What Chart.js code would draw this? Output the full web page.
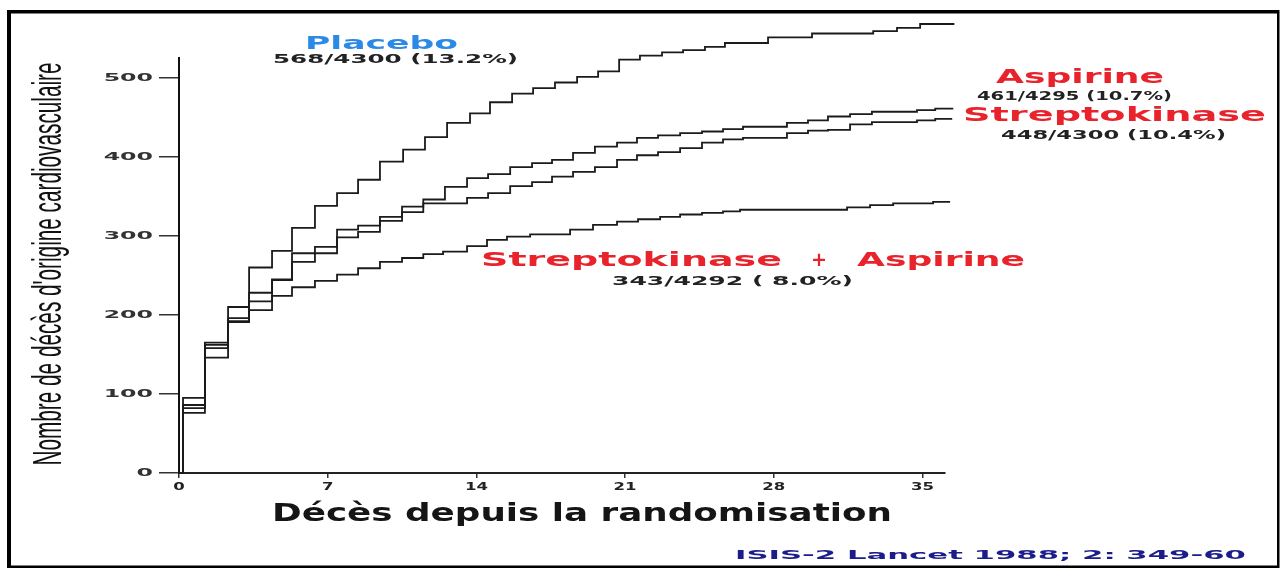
<!DOCTYPE html>
<html>
<head>
<meta charset="utf-8">
<script src="https://cdn.jsdelivr.net/npm/chart.js@4.4.0/dist/chart.umd.min.js"></script>
<style>
  html, body { margin: 0; padding: 0; background: #fff; overflow: hidden; }
  #wrap { position: relative; width: 1283px; height: 570px; }
</style>
</head>
<body>
<div id="wrap"><canvas id="c" width="1283" height="570"></canvas></div>
<script>
// Cumulative cardiovascular deaths by day since randomisation (ISIS-2)
const xTickValues = [0, 7, 14, 21, 28, 35];
const yTickValues = [0, 100, 200, 300, 400, 500];

const placeboDays   = [0, 0.19, 1.22, 2.31, 3.30, 4.38, 5.32, 6.40, 7.44, 8.43, 9.46, 10.55, 11.58, 12.62, 13.70, 14.64, 15.68, 16.67, 17.70, 18.74, 19.73, 20.72, 21.70, 22.74, 23.73, 24.76, 25.70, 27.73, 29.80, 32.68, 33.80, 34.89, 36.50];
const placeboDeaths = [0, 95, 165, 210, 260, 281, 310, 338, 354, 371, 394, 409, 425, 443, 455, 469, 480, 487, 494, 501, 508, 523, 528, 532, 535, 539, 544, 551, 556, 559, 563, 568, 568];

const aspirinDays   = [0, 0.19, 1.22, 2.31, 3.30, 4.38, 5.32, 6.40, 7.44, 8.43, 9.46, 10.50, 11.50, 12.52, 13.56, 14.55, 15.59, 16.62, 17.56, 18.55, 19.58, 20.62, 21.56, 22.55, 23.59, 24.62, 25.61, 26.55, 28.62, 29.61, 30.55, 31.59, 32.62, 34.74, 35.60, 36.45];
const aspirinDeaths = [0, 86, 162, 196, 228, 245, 278, 286, 308, 313, 324, 337, 346, 362, 373, 378, 387, 392, 396, 405, 413, 418, 424, 427, 430, 432, 435, 438, 443, 446, 451, 454, 457, 459, 461, 461];

const streptoDays   = [0, 0.19, 1.22, 2.31, 3.30, 4.38, 5.32, 6.40, 7.44, 8.43, 9.46, 10.50, 11.50, 13.56, 14.55, 15.59, 16.62, 17.56, 18.55, 19.58, 20.62, 21.56, 22.55, 23.59, 24.62, 25.61, 26.55, 28.62, 29.61, 30.55, 31.59, 32.62, 34.74, 35.60, 36.40];
const streptoDeaths = [0, 82, 158, 192, 217, 244, 267, 278, 298, 305, 319, 330, 341, 348, 354, 363, 368, 375, 381, 387, 396, 402, 406, 411, 418, 422, 424, 430, 433, 434, 441, 444, 446, 448, 448];

const comboDays     = [0, 0.19, 1.22, 2.31, 3.30, 4.38, 5.32, 6.40, 7.44, 8.43, 9.46, 10.50, 11.50, 12.43, 13.56, 14.50, 15.44, 16.53, 18.41, 19.49, 20.62, 21.61, 22.65, 23.59, 24.62, 25.61, 26.41, 31.45, 32.53, 33.62, 35.50, 36.30];
const comboDeaths   = [0, 76, 146, 191, 206, 224, 235, 243, 251, 259, 267, 272, 277, 280, 287, 295, 299, 302, 308, 314, 318, 321, 324, 327, 329, 331, 333, 336, 339, 341, 343, 343];

function steps(days, deaths) {
  return days.map((d, i) => ({ x: d, y: deaths[i] }));
}

const lineStyle = {
  borderColor: '#1b1b1b',
  borderWidth: 1.8,
  pointRadius: 0,
  stepped: 'before',
  fill: false,
  clip: false
};

// Draws a string horizontally stretched so that it spans [x0, x1]
function drawSpan(ctx, text, x0, x1, baseline, font, color) {
  ctx.save();
  ctx.font = font;
  ctx.fillStyle = color;
  ctx.textAlign = 'left';
  ctx.textBaseline = 'alphabetic';
  const w = ctx.measureText(text).width;
  ctx.translate(x0, baseline);
  ctx.scale((x1 - x0) / w, 1);
  ctx.fillText(text, 0, 0);
  ctx.restore();
}

const RED = '#e8232b';
const DARK = '#222';
const labelFont = 'bold 12px "DejaVu Sans"';
const nameFont = 'bold 19px "DejaVu Sans"';

const decorations = {
  id: 'decorations',
  beforeDraw(chart) {
    // wide lettering for the axis tick labels
    const ctx = chart.ctx;
    const nativeFill = CanvasRenderingContext2D.prototype.fillText;
    ctx.fillText = function (text, x, y) {
      const sx = this.textAlign === 'right' ? 2.15 : 1.5;
      this.save();
      this.translate(x, y);
      this.scale(sx, 1);
      nativeFill.call(this, text, 0, 0);
      this.restore();
    };
  },
  afterDraw(chart) {
    const ctx = chart.ctx;
    delete ctx.fillText;

    // frame
    ctx.save();
    ctx.fillStyle = '#000';
    ctx.fillRect(7, 10, 4, 558);
    ctx.fillRect(7, 10, 1272, 3.5);
    ctx.fillRect(1277, 10, 2.5, 558);
    ctx.fillRect(7, 565.5, 1272, 2.5);
    ctx.restore();

    // axis titles
    ctx.save();
    ctx.font = '40px "Liberation Sans"';
    ctx.fillStyle = '#111';
    ctx.textAlign = 'center';
    ctx.textBaseline = 'alphabetic';
    const yTitle = "Nombre de décès d'origine cardiovasculaire";
    const tw = ctx.measureText(yTitle).width;
    ctx.translate(61, 264);
    ctx.rotate(-Math.PI / 2);
    ctx.scale(403 / tw, 1);
    ctx.fillText(yTitle, 0, 0);
    ctx.restore();

    drawSpan(ctx, 'Décès depuis la randomisation', 272, 892, 521, 'bold 25px "DejaVu Sans"', '#151515');

    // group labels
    drawSpan(ctx, 'Placebo', 305, 458, 49, 'bold 18px "DejaVu Sans"', '#2a8ae6');
    drawSpan(ctx, '568/4300 (13.2%)', 273, 518, 63, labelFont, DARK);

    drawSpan(ctx, 'Aspirine', 996, 1164, 83, nameFont, RED);
    drawSpan(ctx, '461/4295 (10.7%)', 977, 1172, 100, labelFont, DARK);

    drawSpan(ctx, 'Streptokinase', 963, 1266, 121, nameFont, RED);
    drawSpan(ctx, '448/4300 (10.4%)', 1001, 1226, 139, labelFont, DARK);

    drawSpan(ctx, 'Streptokinase', 481, 782, 266, nameFont, RED);
    drawSpan(ctx, '+', 811, 827, 266, nameFont, RED);
    drawSpan(ctx, 'Aspirine', 857, 1025, 266, nameFont, RED);
    drawSpan(ctx, '343/4292 ( 8.0%)', 612, 853, 285, labelFont, DARK);

    drawSpan(ctx, 'ISIS-2 Lancet 1988; 2: 349-60', 735, 1246, 559, 'bold 13px "DejaVu Sans"', '#1c1c8a');
  }
};

new Chart(document.getElementById('c'), {
  type: 'line',
  data: {
    datasets: [
      { label: 'Placebo', data: steps(placeboDays, placeboDeaths), ...lineStyle },
      { label: 'Aspirine', data: steps(aspirinDays, aspirinDeaths), ...lineStyle },
      { label: 'Streptokinase', data: steps(streptoDays, streptoDeaths), ...lineStyle },
      { label: 'Streptokinase + Aspirine', data: steps(comboDays, comboDeaths), ...lineStyle }
    ]
  },
  options: {
    responsive: false,
    animation: false,
    devicePixelRatio: 1,
    layout: { padding: { left: 0, top: 58, right: 338, bottom: 0 } },
    plugins: { legend: { display: false }, tooltip: { enabled: false } },
    scales: {
      x: {
        type: 'linear',
        min: 0,
        max: 36.06,
        afterBuildTicks: s => { s.ticks = xTickValues.map(v => ({ value: v })); },
        afterFit: s => { s.height = 97; },
        grid: { drawOnChartArea: false, drawTicks: true, tickLength: 5, color: '#333', lineWidth: 1.5 },
        border: { display: true, color: '#222', width: 2 },
        ticks: {
          color: '#222',
          font: { family: 'DejaVu Sans', size: 11, weight: 'bold' },
          padding: 3, maxRotation: 0, autoSkip: false
        }
      },
      y: {
        type: 'linear',
        min: 0,
        max: 525,
        afterBuildTicks: s => { s.ticks = yTickValues.map(v => ({ value: v })); },
        afterFit: s => { s.width = 179; },
        grid: { drawOnChartArea: false, drawTicks: true, tickLength: 20, color: '#333', lineWidth: 1.5 },
        border: { display: true, color: '#111', width: 2 },
        ticks: {
          color: '#333',
          font: { family: 'DejaVu Sans', size: 11, weight: 'bold' },
          padding: 6
        }
      }
    }
  },
  plugins: [decorations]
});
</script>
</body>
</html>
